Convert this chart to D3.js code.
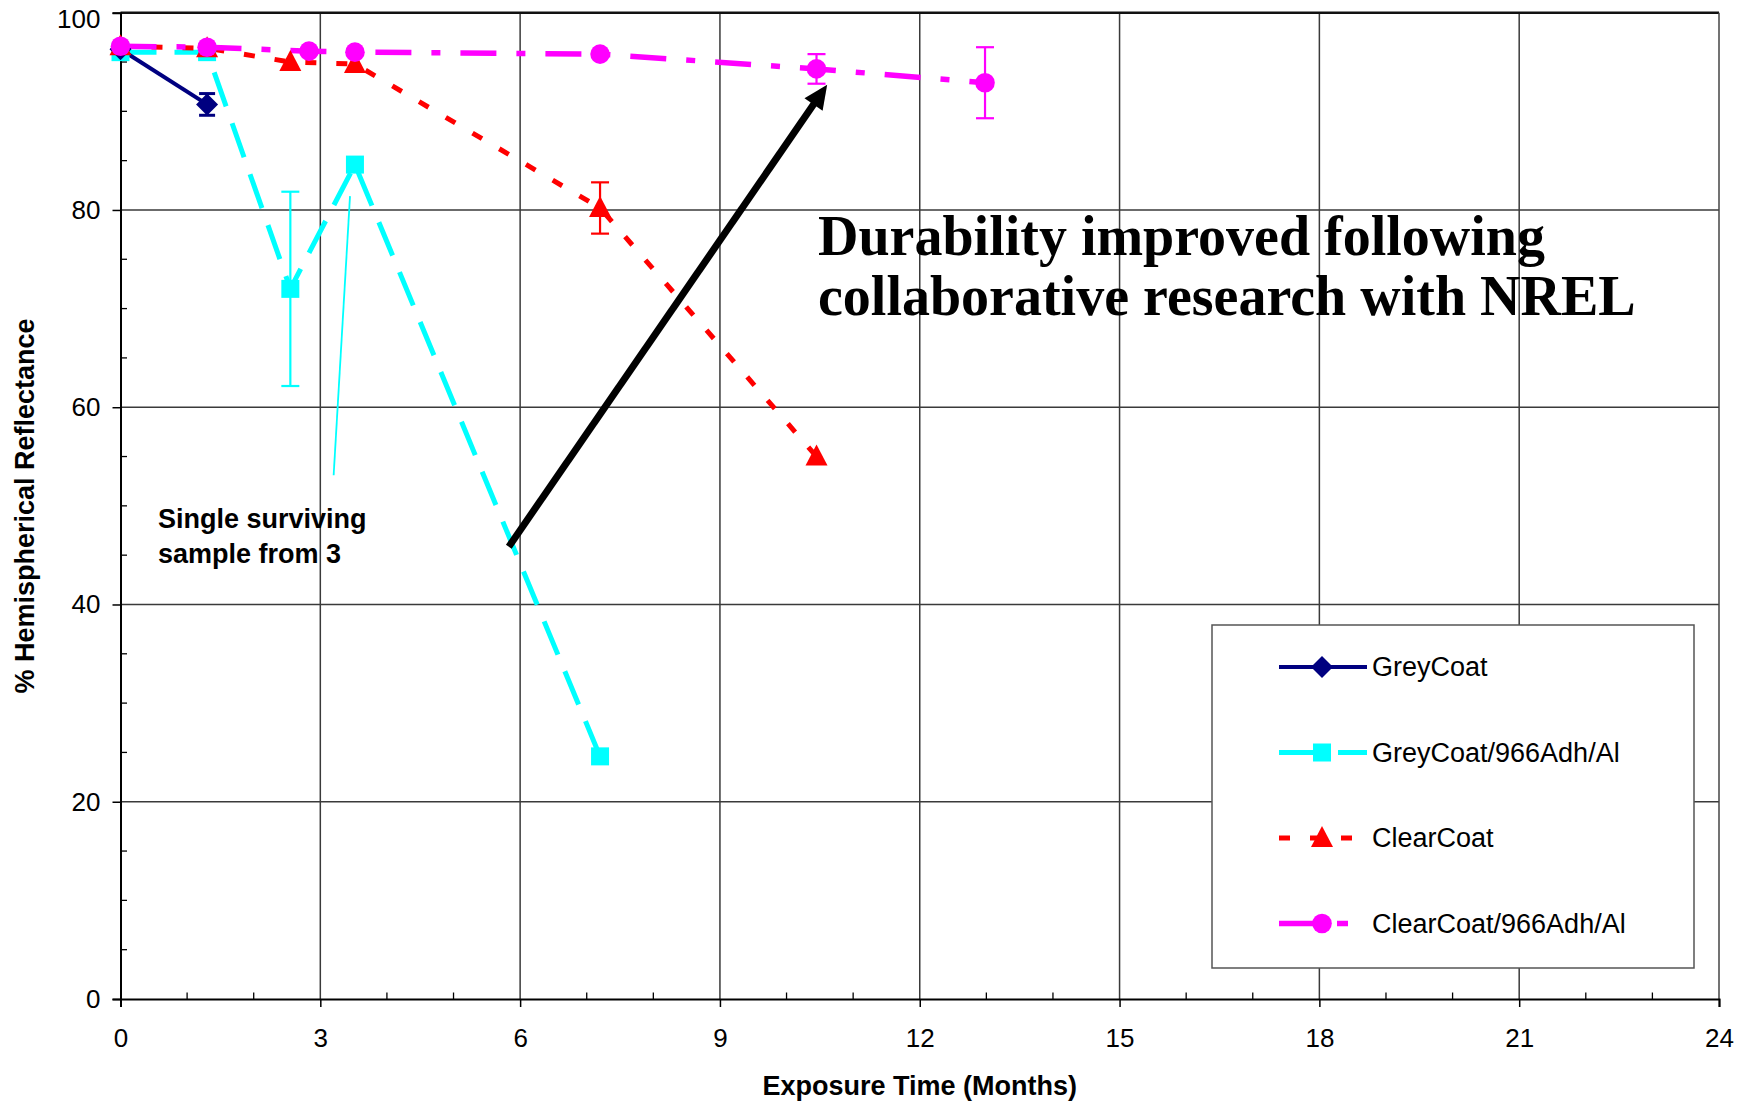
<!DOCTYPE html>
<html>
<head>
<meta charset="utf-8">
<script src="https://cdn.jsdelivr.net/npm/d3@7"></script>
<style>
  html, body { margin: 0; padding: 0; background: #fff; }
  svg { display: block; }
</style>
</head>
<body>
<svg id="chart" width="1745" height="1101" font-family="Liberation Sans, Arial, sans-serif"></svg>
<script>
// ---- data ----
const seriesNames = ["GreyCoat", "GreyCoat/966Adh/Al", "ClearCoat", "ClearCoat/966Adh/Al"];
const greyX = [0, 1.3];
const greyY = [96.3, 90.7];
const greyErr = [0, 1.1];
const greyAdhX = [0, 1.3, 2.55, 3.52, 7.2];
const greyAdhY = [96.0, 96.0, 72.0, 84.6, 24.6];
const greyAdhErr = [0, 0, 9.85, 0, 0];
const clearX = [0, 1.3, 2.55, 3.52, 7.2, 10.45];
const clearY = [96.6, 96.4, 95.0, 94.8, 80.2, 55.0];
const clearErr = [0, 0, 0, 0, 2.6, 0];
const clearAdhX = [0, 1.3, 2.83, 3.52, 7.2, 10.45, 12.98];
const clearAdhY = [96.6, 96.5, 96.1, 96.0, 95.8, 94.3, 92.9];
const clearAdhErr = [0, 0, 0, 0, 0, 1.5, 3.6];
const xTicks = [0, 3, 6, 9, 12, 15, 18, 21, 24];
const yTicks = [0, 20, 40, 60, 80, 100];
const leaderLine = [[3.446, 81.4], [3.2, 53.1]];
const arrowLine = [[5.83, 45.86], [10.61, 92.7]];
const xTitle = "Exposure Time (Months)";
const yTitle = "% Hemispherical Reflectance";
const noteLines = ["Single surviving", "sample from 3"];
const bigNote = ["Durability improved following", "collaborative research with NREL"];

// ---- layout ----
const L = 120.5, R = 1719, T = 12.7, B = 999;
const svg = d3.select("#chart");
const x = d3.scaleLinear().domain([0, 24]).range([L, R]);
const y = d3.scaleLinear().domain([0, 100]).range([B, T]);

const styles = [
  { color: "#000080", width: 4, dash: null, marker: "diamond" },
  { color: "#00FFFF", width: 5, dash: "36,18", marker: "square" },
  { color: "#FF0000", width: 5, dash: "11,20", marker: "triangle" },
  { color: "#FF00FF", width: 5.5, dash: "36,20,9,20", marker: "circle" }
];
const series = [
  { xs: greyX, ys: greyY, err: greyErr },
  { xs: greyAdhX, ys: greyAdhY, err: greyAdhErr },
  { xs: clearX, ys: clearY, err: clearErr },
  { xs: clearAdhX, ys: clearAdhY, err: clearAdhErr }
].map((s, i) => ({ ...s, name: seriesNames[i], style: styles[i],
  pts: s.xs.map((v, j) => ({ x: v, y: s.ys[j], e: s.err[j] })) }));

// gridlines
const grid = svg.append("g");
grid.selectAll("line.v").data(xTicks.filter(t => t > 0 && t < 24)).join("line")
  .attr("x1", d => x(d)).attr("x2", d => x(d)).attr("y1", T).attr("y2", B)
  .attr("stroke", "#3a3a3a").attr("stroke-width", 1.5);
grid.selectAll("line.h").data(yTicks.filter(t => t > 0 && t < 100)).join("line")
  .attr("x1", L).attr("x2", R).attr("y1", d => y(d)).attr("y2", d => y(d))
  .attr("stroke", "#3a3a3a").attr("stroke-width", 1.5);
// frame top & right
svg.append("line").attr("x1", L).attr("x2", R).attr("y1", T).attr("y2", T)
  .attr("stroke", "#111").attr("stroke-width", 2.5);
svg.append("line").attr("x1", R).attr("x2", R).attr("y1", T).attr("y2", B)
  .attr("stroke", "#444").attr("stroke-width", 1.5);

// axes
const xAxis = svg.append("g").attr("transform", `translate(0,${B})`)
  .call(d3.axisBottom(x).tickValues(xTicks).tickSize(8).tickPadding(22).tickFormat(d3.format("d")));
const yAxis = svg.append("g").attr("transform", `translate(${L},0)`)
  .call(d3.axisLeft(y).tickValues(yTicks).tickSize(8).tickPadding(12).tickFormat(d3.format("d")));
[xAxis, yAxis].forEach(a => {
  a.select(".domain").attr("stroke", "#000").attr("stroke-width", 2);
  a.selectAll(".tick line").attr("stroke", "#000").attr("stroke-width", 1.5);
  a.selectAll(".tick text").attr("font-size", 26).attr("fill", "#000")
    .style("font-family", "'Liberation Sans', Arial, sans-serif");
});
// keep the top label inside the picture
yAxis.selectAll(".tick").filter(d => d === 100).select("text").attr("dy", "0.55em");
// minor ticks (inside)
svg.append("g").selectAll("line").data(d3.range(1, 24).filter(m => m % 3 !== 0)).join("line")
  .attr("x1", d => x(d)).attr("x2", d => x(d)).attr("y1", B).attr("y2", B - 6.5)
  .attr("stroke", "#000").attr("stroke-width", 1.3);
svg.append("g").selectAll("line").data(d3.range(5, 100, 5).filter(v => v % 20 !== 0)).join("line")
  .attr("x1", L).attr("x2", L + 6.5).attr("y1", d => y(d)).attr("y2", d => y(d))
  .attr("stroke", "#000").attr("stroke-width", 1.3);

// axis titles
svg.append("text").attr("x", (L + R) / 2).attr("y", 1095).attr("text-anchor", "middle")
  .attr("font-size", 27).attr("font-weight", "bold").text(xTitle);
svg.append("text").attr("transform", `translate(34,506) rotate(-90)`).attr("text-anchor", "middle")
  .attr("font-size", 27).attr("font-weight", "bold").text(yTitle);

// annotations (behind data)
const lineGen = d3.line().x(d => x(d[0])).y(d => y(d[1]));
svg.append("path").attr("d", lineGen(leaderLine)).attr("stroke", "#00FFFF")
  .attr("stroke-width", 1.8).attr("fill", "none");

// series lines
const sLine = d3.line().x(d => x(d.x)).y(d => y(d.y));
const order = [1, 0, 2, 3];
order.forEach(i => {
  const s = series[i];
  svg.append("path").attr("d", sLine(s.pts)).attr("fill", "none")
    .attr("stroke", s.style.color).attr("stroke-width", s.style.width)
    .attr("stroke-dasharray", s.style.dash);
});

// arrow
const a0 = [x(arrowLine[0][0]), y(arrowLine[0][1])];
const a1 = [x(arrowLine[1][0]), y(arrowLine[1][1])];
const ang = Math.atan2(a1[1] - a0[1], a1[0] - a0[0]);
const headLen = 24, headW = 11;
const baseC = [a1[0] - headLen * Math.cos(ang), a1[1] - headLen * Math.sin(ang)];
svg.append("line").attr("x1", a0[0]).attr("y1", a0[1]).attr("x2", baseC[0] + 2 * Math.cos(ang)).attr("y2", baseC[1] + 2 * Math.sin(ang))
  .attr("stroke", "#000").attr("stroke-width", 7);
svg.append("path").attr("fill", "#000").attr("d",
  `M${a1[0]},${a1[1]}L${baseC[0] + headW * Math.sin(ang)},${baseC[1] - headW * Math.cos(ang)}L${baseC[0] - headW * Math.sin(ang)},${baseC[1] + headW * Math.cos(ang)}Z`);

// error bars
order.forEach(i => {
  const s = series[i];
  const g = svg.append("g").attr("stroke", s.style.color).attr("stroke-width", i === 0 ? 3 : 2.2);
  s.pts.filter(p => p.e > 0).forEach(p => {
    const cx = x(p.x), hw = i === 0 ? 8 : 9;
    g.append("line").attr("x1", cx).attr("x2", cx).attr("y1", y(p.y + p.e)).attr("y2", y(p.y - p.e));
    g.append("line").attr("x1", cx - hw).attr("x2", cx + hw).attr("y1", y(p.y + p.e)).attr("y2", y(p.y + p.e));
    g.append("line").attr("x1", cx - hw).attr("x2", cx + hw).attr("y1", y(p.y - p.e)).attr("y2", y(p.y - p.e));
  });
});

// markers
function drawMarker(g, type, cx, cy, color) {
  if (type === "diamond") {
    g.append("path").attr("d", `M${cx},${cy - 11}L${cx + 11},${cy}L${cx},${cy + 11}L${cx - 11},${cy}Z`).attr("fill", color);
  } else if (type === "square") {
    g.append("rect").attr("x", cx - 9).attr("y", cy - 9).attr("width", 18).attr("height", 18).attr("fill", color);
  } else if (type === "triangle") {
    g.append("path").attr("d", `M${cx},${cy - 12}L${cx + 11},${cy + 9}L${cx - 11},${cy + 9}Z`).attr("fill", color);
  } else {
    g.append("circle").attr("cx", cx).attr("cy", cy).attr("r", 9.8).attr("fill", color);
  }
}
order.forEach(i => {
  const s = series[i];
  const g = svg.append("g");
  s.pts.forEach(p => drawMarker(g, s.style.marker, x(p.x), y(p.y), s.style.color));
});

// text annotations
const note = svg.append("text").attr("font-size", 27).attr("font-weight", "bold").attr("fill", "#000");
noteLines.forEach((t, k) => note.append("tspan").attr("x", 158).attr("y", 528 + k * 35).text(t));
const big = svg.append("text").attr("font-size", 56).attr("font-weight", "bold").attr("fill", "#000")
  .style("font-family", "'Liberation Serif', 'Times New Roman', serif");
bigNote.forEach((t, k) => big.append("tspan").attr("x", 818).attr("y", 255 + k * 60).text(t));

// legend
const lg = svg.append("g");
lg.append("rect").attr("x", 1212).attr("y", 625).attr("width", 482).attr("height", 343)
  .attr("fill", "#fff").attr("stroke", "#555").attr("stroke-width", 1.5);
const legendDash = [null, "42,17,30,100", "11,20,11,20,11,100", "40,18,11,100"];
series.forEach((s, i) => {
  const ly = 667 + i * 85.5;
  lg.append("line").attr("x1", 1279).attr("x2", 1367).attr("y1", ly).attr("y2", ly)
    .attr("stroke", s.style.color).attr("stroke-width", s.style.width)
    .attr("stroke-dasharray", legendDash[i]);
  drawMarker(lg, s.style.marker, 1322, ly, s.style.color);
  lg.append("text").attr("x", 1372).attr("y", ly).attr("dy", "0.35em")
    .attr("font-size", 27).attr("fill", "#000").text(s.name);
});
</script>
</body>
</html>
